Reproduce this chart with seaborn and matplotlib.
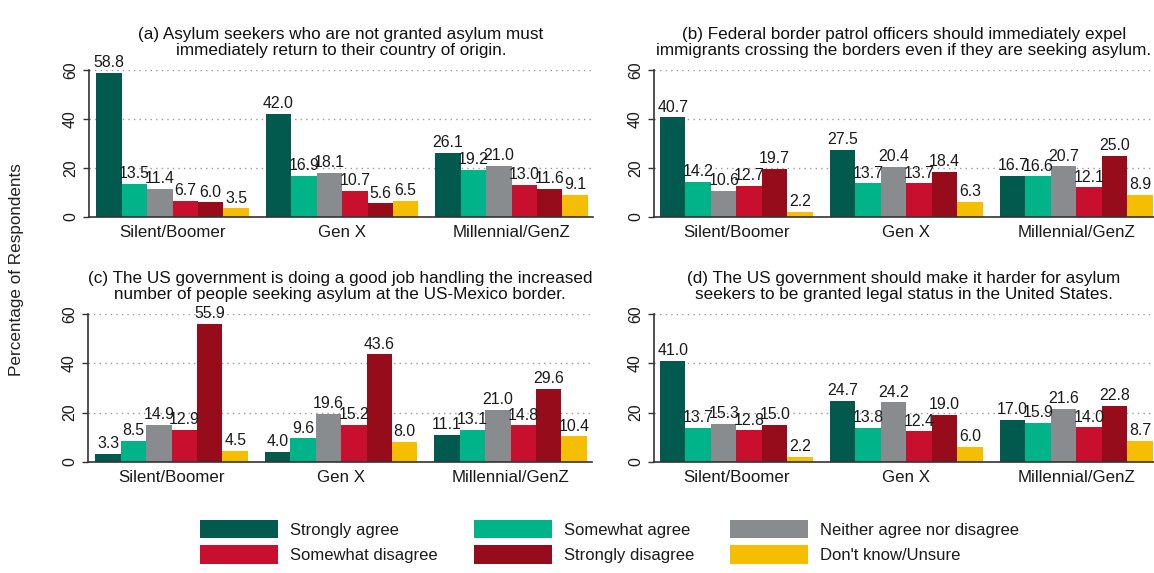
import matplotlib
matplotlib.use("Agg")
import matplotlib.pyplot as plt
import seaborn as sns
import pandas as pd
from matplotlib.patches import Patch

sns.set_style("white")
plt.rcParams['font.family'] = ['Liberation Sans', 'DejaVu Sans']

generations = ["Silent/Boomer", "Gen X", "Millennial/GenZ"]
responses = ["Strongly agree", "Somewhat agree", "Neither agree nor disagree",
             "Somewhat disagree", "Strongly disagree", "Don't know/Unsure"]
colors = ["#02594E", "#00B388", "#898C8E", "#C8102E", "#960C1B", "#F5BE00"]

titles = [
    "(a) Asylum seekers who are not granted asylum must\nimmediately return to their country of origin.",
    "(b) Federal border patrol officers should immediately expel\nimmigrants crossing the borders even if they are seeking asylum.",
    "(c) The US government is doing a good job handling the increased\nnumber of people seeking asylum at the US-Mexico border.",
    "(d) The US government should make it harder for asylum\nseekers to be granted legal status in the United States.",
]

# values per panel: rows = generations, cols = responses
panel_a = [[58.8, 13.5, 11.4, 6.7, 6.0, 3.5],
           [42.0, 16.9, 18.1, 10.7, 5.6, 6.5],
           [26.1, 19.2, 21.0, 13.0, 11.6, 9.1]]
panel_b = [[40.7, 14.2, 10.6, 12.7, 19.7, 2.2],
           [27.5, 13.7, 20.4, 13.7, 18.4, 6.3],
           [16.7, 16.6, 20.7, 12.1, 25.0, 8.9]]
panel_c = [[3.3, 8.5, 14.9, 12.9, 55.9, 4.5],
           [4.0, 9.6, 19.6, 15.2, 43.6, 8.0],
           [11.1, 13.1, 21.0, 14.8, 29.6, 10.4]]
panel_d = [[41.0, 13.7, 15.3, 12.8, 15.0, 2.2],
           [24.7, 13.8, 24.2, 12.4, 19.0, 6.0],
           [17.0, 15.9, 21.6, 14.0, 22.8, 8.7]]
panels = [panel_a, panel_b, panel_c, panel_d]

W, H = 1154, 573
fig = plt.figure(figsize=(W / 100, H / 100), dpi=100)

# axes rectangles in pixels: left, right, top(60), bottom(0)
rects = [(89, 593, 70, 217), (654, 1154, 70, 217),
         (88, 592, 314, 462), (654, 1154, 314, 462)]
xlims = [(-0.493, 2.48), (-0.485, 2.456), (-0.493, 2.48), (-0.485, 2.456)]

for i, (vals, title) in enumerate(zip(panels, titles)):
    l, r, t, b = rects[i]
    ax = fig.add_axes([l / W, 1 - b / H, (r - l) / W, (b - t) / H])
    rows = []
    for g, row in zip(generations, vals):
        for resp, v in zip(responses, row):
            rows.append({"gen": g, "resp": resp, "val": v})
    df = pd.DataFrame(rows)
    sns.barplot(data=df, x="gen", y="val", hue="resp", order=generations,
                hue_order=responses, palette=colors, width=0.9, saturation=1,
                legend=False, ax=ax, errorbar=None, linewidth=0)
    for cont in ax.containers:
        ax.bar_label(cont, fmt="%.1f", padding=2, fontsize=11.4, color="#1a1a1a",
                     clip_on=False)
    ax.set_ylim(0, 60)
    ax.set_xlim(*xlims[i])
    ax.set_yticks([0, 20, 40, 60])
    ax.set_xlabel("")
    ax.set_ylabel("")
    ax.set_title(title, fontsize=12.3, pad=11, linespacing=1.05, color="#111111")
    for s in ["top", "right"]:
        ax.spines[s].set_visible(False)
    for s in ["left", "bottom"]:
        ax.spines[s].set_color("#333333")
        ax.spines[s].set_linewidth(1.2)
    ax.yaxis.grid(True, linestyle=(0, (1, 3)), color="#9a9a9a", linewidth=1.0)
    ax.set_axisbelow(True)
    ax.tick_params(axis="y", which="major", direction="out", length=4, width=1,
                   color="#333333", labelsize=11.4, pad=4, left=True,
                   labelcolor="#1a1a1a")
    ax.tick_params(axis="x", length=0, labelsize=12.2, pad=6, labelcolor="#1a1a1a")
    for lab in ax.get_yticklabels():
        lab.set_rotation(90)
        lab.set_rotation_mode("anchor")
        lab.set_ha("center")
        lab.set_va("bottom")

fig.text(17 / W, 1 - 270 / H, "Percentage of Respondents", rotation=90,
         ha="center", va="center", fontsize=12.3, color="#222222")

handles = [Patch(facecolor=c, edgecolor="none", label=lbl)
           for c, lbl in zip(colors, responses)]
# matplotlib fills legend columns first; reorder so entries read row by row
ncol, nrow = 3, 2
ordered = [handles[r * ncol + c] for c in range(ncol) for r in range(nrow)]
fs = 12
fig.legend(handles=ordered, ncol=ncol, loc="upper left",
           bbox_to_anchor=(200 / W, 1 - 520 / H), frameon=False,
           fontsize=fs, handlelength=78 / 16.67, handleheight=22 / 16.67,
           handletextpad=12 / 16.67, columnspacing=36 / 16.67,
           labelspacing=7 / 16.67, borderpad=0, borderaxespad=0,
           labelcolor="#1a1a1a")

fig.savefig("out.png", dpi=100)
